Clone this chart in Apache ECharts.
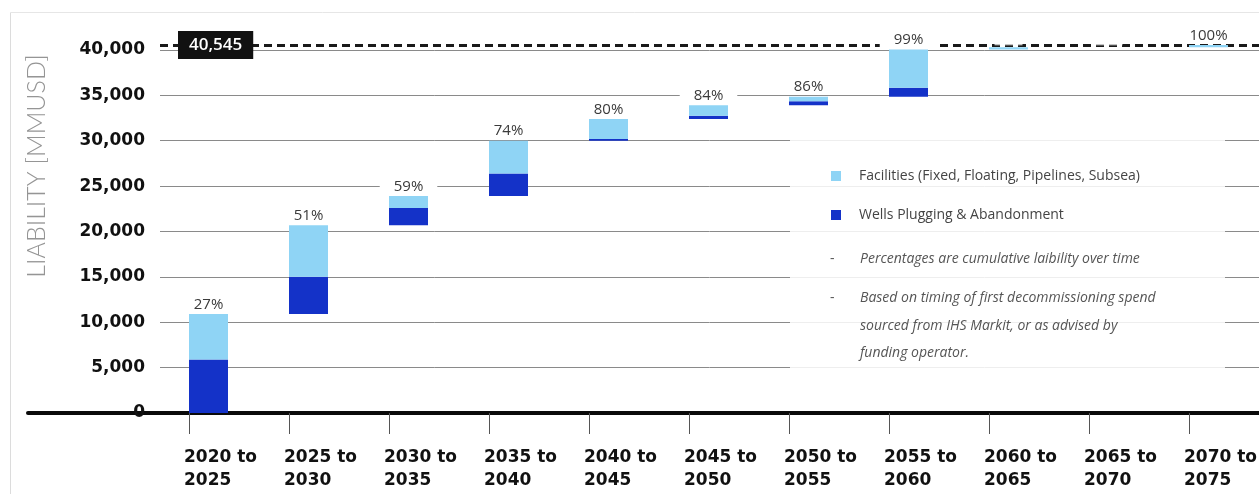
<!DOCTYPE html>
<html><head><meta charset="utf-8">
<script src="https://cdn.jsdelivr.net/npm/echarts@6/dist/echarts.min.js"></script>
<style>html,body{margin:0;padding:0;background:#fff}#c{width:1259px;height:494px}</style>
</head><body><div id="c"></div>
<script>
// ---- data ----
const categories = ['2020 to 2025', '2025 to 2030', '2030 to 2035', '2035 to 2040', '2040 to 2045', '2045 to 2050', '2050 to 2055', '2055 to 2060', '2060 to 2065', '2065 to 2070', '2070 to 2075'];
const wells = [5900, 4100, 1900, 2500, 200, 350, 450, 1000, 0, 0, 0];
const facilities = [5000, 5700, 1300, 3600, 2200, 1150, 500, 4200, 250, 0, 245];
const pctLabels = ['27%', '51%', '59%', '74%', '80%', '84%', '86%', '99%', '', '', '100%'];
const totalLiability = 40545;
const yMin = 0, yMax = 41000, yStep = 5000;
const seriesNames = ['Facilities (Fixed, Floating, Pipelines, Subsea)', 'Wells Plugging & Abandonment'];
const notes = ['Percentages are cumulative laibility over time', 'Based on timing of first decommissioning spend', 'sourced from IHS Markit, or as advised by', 'funding operator.'];
const yAxisTitle = 'LIABILITY [MMUSD]';

// waterfall offsets (cumulative of previous steps)
const base = [];
let run = 0;
for (let i = 0; i < categories.length; i++) { base.push(run); run += wells[i] + facilities[i]; }

const FAC = '#8fd4f5', WEL = '#1432c8';
const boldFont = 'DejaVu Sans';
const txtFont = 'Open Sans';
const TOP = 40.9, BOTTOM = 81;

const chart = echarts.init(document.getElementById('c'), null, {renderer: 'canvas'});
const option = {
  backgroundColor: '#fff',
  animation: false,
  grid: [
    {left: 160, right: 0, top: TOP, bottom: BOTTOM, outerBoundsMode: 'none'},
    {left: 189, width: 1100, top: TOP, bottom: BOTTOM, outerBoundsMode: 'none'},
    {left: 28, right: 0, top: TOP, bottom: BOTTOM, outerBoundsMode: 'none'}
  ],
  xAxis: [
    {gridIndex: 0, type: 'value', min: 0, max: 1, show: false},
    {gridIndex: 1, type: 'category', data: categories, boundaryGap: true,
      axisLine: {show: false},
      axisTick: {show: true, alignWithLabel: false, length: 21, lineStyle: {color: '#555', width: 1}},
      axisLabel: {margin: 33, interval: 0, align: 'center',
        formatter: v => { const p = v.split(' to '); return '{a|' + p[0] + ' to}\n{a|' + p[1] + '}'; },
        rich: {a: {width: 110, align: 'left', fontFamily: boldFont, fontWeight: 'bold', fontSize: 17, color: '#111', lineHeight: 23}}
      }
    },
    {gridIndex: 2, type: 'value', min: 0, max: 1,
      axisLine: {show: true, lineStyle: {color: '#0a0a0a', width: 4}},
      axisTick: {show: false}, axisLabel: {show: false}, splitLine: {show: false}}
  ],
  yAxis: [
    {gridIndex: 0, type: 'value', min: yMin, max: yMax, interval: yStep,
      axisLine: {show: false}, axisTick: {show: false},
      splitLine: {showMaxLine: false, lineStyle: {color: '#8a8a8a', width: 1}},
      axisLabel: {showMaxLabel: false, margin: 15, padding: [0, 0, 10, 0], color: '#111', fontFamily: boldFont, fontWeight: 'bold', fontSize: 17,
        formatter: v => (v % yStep === 0 ? v.toLocaleString('en-US') : '')}
    },
    {gridIndex: 1, type: 'value', min: yMin, max: yMax, show: false},
    {gridIndex: 2, type: 'value', min: 0, max: 1, show: false}
  ],
  legend: {
    orient: 'vertical', left: 826, top: 161, itemWidth: 10, itemHeight: 10, itemGap: 19, icon: 'rect',
    data: seriesNames, selectedMode: false,
    textStyle: {fontFamily: txtFont, fontSize: 14, color: '#444', lineHeight: 20, padding: [0, 0, 0, 13]}
  },
  series: [
    {name: 'total', type: 'line', xAxisIndex: 0, yAxisIndex: 0, data: [[0, totalLiability]],
      symbol: 'none', showSymbol: false, silent: true, lineStyle: {width: 0}, z: 1,
      markLine: {symbol: 'none', silent: true, z: 1,
        lineStyle: {type: [8, 5], color: '#1a1a1a', width: 3},
        label: {show: true, position: 'insideStartTop', distance: [18, -14],
          formatter: () => totalLiability.toLocaleString('en-US'),
          backgroundColor: '#111', color: '#fff', padding: [6, 11, 5, 11],
          fontFamily: txtFont, fontSize: 17, fontWeight: 600},
        data: [{yAxis: totalLiability}]}
    },
    {name: 'base', type: 'bar', xAxisIndex: 1, yAxisIndex: 1, stack: 'w', barWidth: 39, barGap: 0, z: 6,
      data: base, itemStyle: {color: 'rgba(0,0,0,0)'}, silent: true},
    {name: seriesNames[1], type: 'bar', xAxisIndex: 1, yAxisIndex: 1, stack: 'w', barWidth: 39, barGap: 0, z: 6,
      data: wells, itemStyle: {color: WEL}},
    {name: seriesNames[0], type: 'bar', xAxisIndex: 1, yAxisIndex: 1, stack: 'w', barWidth: 39, barGap: 0, z: 7,
      data: facilities, itemStyle: {color: FAC},
      label: {show: true, position: 'top', distance: 2,
        formatter: p => pctLabels[p.dataIndex],
        backgroundColor: '#fff', padding: [1, 14, 0, 14],
        fontFamily: txtFont, fontSize: 15, color: '#3a3a3a'}},
    {name: 'spacer', type: 'bar', xAxisIndex: 1, yAxisIndex: 1, stack: 'd', barWidth: 61, barGap: 0, z: 0,
      data: categories.map(() => 0), itemStyle: {color: 'rgba(0,0,0,0)'}, silent: true}
  ],
  graphic: [
    {type: 'line', z: 1, shape: {x1: 10.5, y1: 12.5, x2: 10.5, y2: 494}, style: {stroke: '#dcdcdc', lineWidth: 1}},
    {type: 'line', z: 1, shape: {x1: 10.5, y1: 12.5, x2: 1259, y2: 12.5}, style: {stroke: '#e6e6e6', lineWidth: 1}},
    {type: 'rect', z: 3, shape: {x: 790, y: 140, width: 435, height: 231}, style: {fill: 'rgba(255,255,255,0.86)'}},
    {type: 'text', z: 6, x: 37, y: 166, rotation: Math.PI / 2,
      style: {text: yAxisTitle, fill: '#959595', font: '300 25px Lato, "Open Sans", sans-serif', align: 'center', verticalAlign: 'middle'}},
    {type: 'text', z: 6, x: 830, y: 259, style: {text: '-', fill: '#555', font: '14px "Open Sans"', verticalAlign: 'middle'}},
    {type: 'text', z: 6, x: 830, y: 298, style: {text: '-', fill: '#555', font: '14px "Open Sans"', verticalAlign: 'middle'}},
    {type: 'text', z: 6, x: 860, y: 259, style: {text: notes[0], fill: '#555', font: 'italic 14px "Open Sans"', verticalAlign: 'middle'}},
    {type: 'text', z: 6, x: 860, y: 298, style: {text: notes[1], fill: '#555', font: 'italic 14px "Open Sans"', verticalAlign: 'middle'}},
    {type: 'text', z: 6, x: 860, y: 326, style: {text: notes[2], fill: '#555', font: 'italic 14px "Open Sans"', verticalAlign: 'middle'}},
    {type: 'text', z: 6, x: 860, y: 353, style: {text: notes[3], fill: '#555', font: 'italic 14px "Open Sans"', verticalAlign: 'middle'}}
  ]
};
chart.setOption(option);
</script>
</body></html>
